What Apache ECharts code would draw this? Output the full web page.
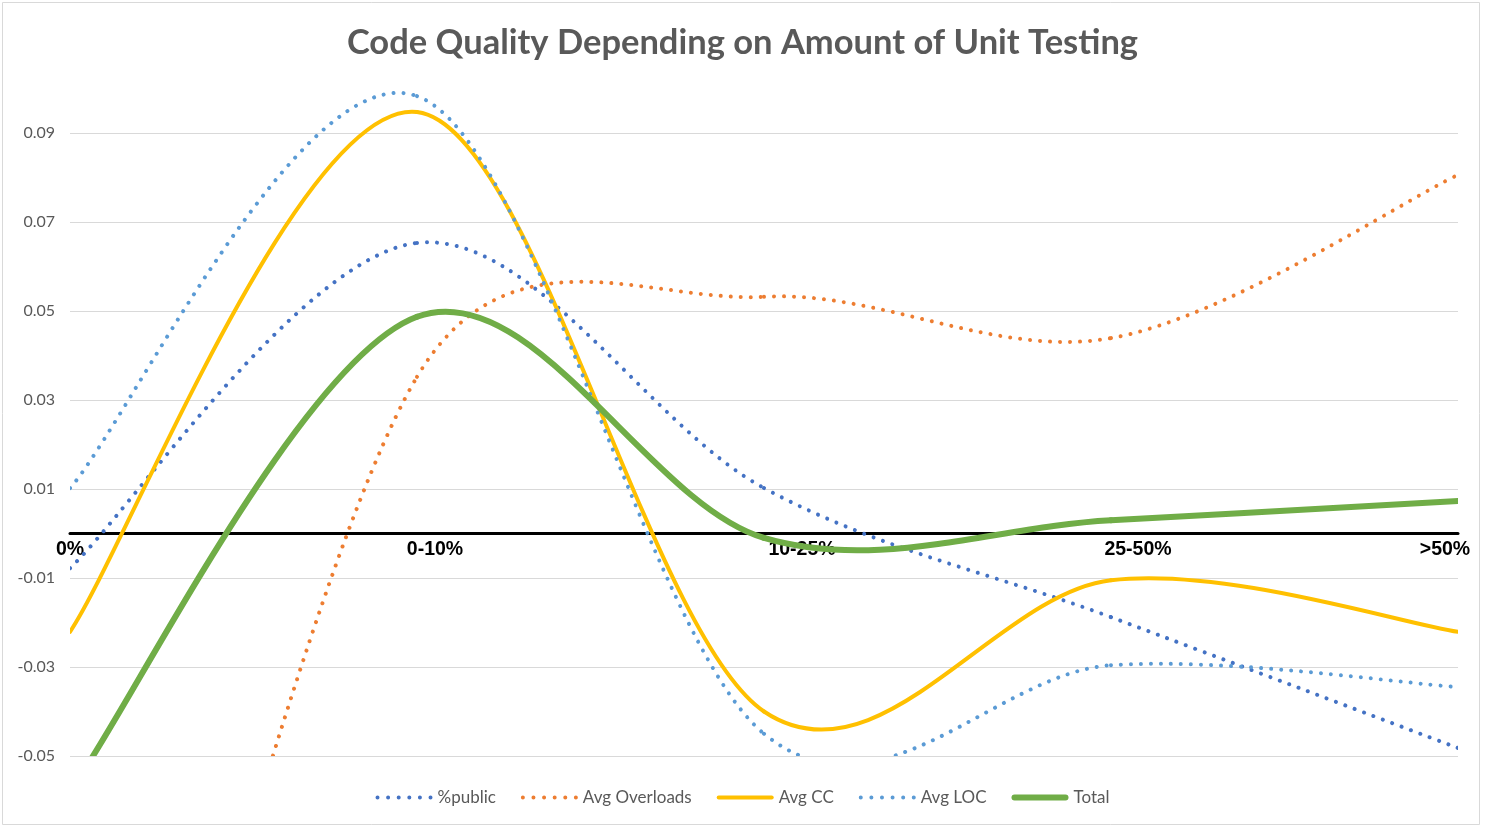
<!DOCTYPE html>
<html lang="en">
<head>
<meta charset="UTF-8">
<title>Code Quality Depending on Amount of Unit Testing</title>
<style>
  html, body { margin: 0; padding: 0; background: #fff; }
  #chart { width: 1485px; height: 827px; }
</style>
</head>
<body>
<div id="chart"></div>
<script src="https://cdn.jsdelivr.net/npm/echarts@6/dist/echarts.min.js"></script>
<script>
// values, one per category
var categories   = ['0%', '0-10%', '10-25%', '25-50%', '>50%'];
var pctPublic    = [-0.0078, 0.0653, 0.0102, -0.0188, -0.0482];
var avgOverloads = [-0.2100, 0.0352, 0.0532, 0.0439, 0.0806];
var avgCC        = [-0.0221, 0.0947, -0.0400, -0.0105, -0.0221];
var avgLOC       = [0.0102, 0.0983, -0.0450, -0.0296, -0.0345];
var total        = [-0.0580, 0.0487, -0.0010, 0.0030, 0.0073];

var FONT = 'Lato, "Open Sans", sans-serif';
var DOTS = [0.01, 10];
var Y_MIN = -0.05, Y_MAX = 0.1;
var GRID = { left: 70, right: 27, top: 88.5, bottom: 71 };

// the x labels in the original sit a little off their ticks
var labelPad = {
  '0-10%': [0, 0, 0, 36],
  '10-25%': [0, 0, 0, 76],
  '25-50%': [0, 0, 0, 54],
  '>50%': [0, 26, 0, 0]
};

// legend icons, all with the same 57x6 box
function dotIcon() {
  var p = 'path://M0,0M57,6';
  for (var k = 0; k < 6; k++) {
    var cx = 2 + k * 10.6;
    p += 'M' + (cx - 2) + ',3a2,2 0 1,0 4,0a2,2 0 1,0 -4,0';
  }
  return p;
}
function barIcon(h) {
  var t = 3 - h / 2, b = 3 + h / 2, r = h / 2;
  return 'path://M0,0M57,6M' + r + ',' + t + 'H' + (57 - r) +
    'A' + r + ',' + r + ' 0 0,1 ' + (57 - r) + ',' + b + 'H' + r +
    'A' + r + ',' + r + ' 0 0,1 ' + r + ',' + t + 'Z';
}

function dist(a, b) {
  return Math.sqrt((a[0] - b[0]) * (a[0] - b[0]) + (a[1] - b[1]) * (a[1] - b[1]));
}

// excel style smoothed segment from point i to i+1
// (tension 1/6, control arm never longer than half the segment)
function smoothLine(color, width, dash) {
  return function (params, api) {
    var i = params.dataIndexInside;
    var n = params.dataInsideLength;
    if (i >= n - 1) return null;
    function pt(j) {
      j = Math.max(0, Math.min(n - 1, j));
      return api.coord([j, api.value(1, j)]);
    }
    var p0 = pt(i - 1), p1 = pt(i), p2 = pt(i + 1), p3 = pt(i + 2);
    var d12 = dist(p1, p2), d02 = dist(p0, p2), d13 = dist(p1, p3);
    var f1 = 1 / 6, f2 = 1 / 6;
    if (d02 / 6 > d12 / 2) f1 = d12 / 2 / d02;
    if (d13 / 6 > d12 / 2) f2 = d12 / 2 / d13;
    return {
      type: 'bezierCurve',
      shape: {
        x1: p1[0], y1: p1[1],
        x2: p2[0], y2: p2[1],
        cpx1: p1[0] + (p2[0] - p0[0]) * f1,
        cpy1: p1[1] + (p2[1] - p0[1]) * f1,
        cpx2: p2[0] - (p3[0] - p1[0]) * f2,
        cpy2: p2[1] - (p3[1] - p1[1]) * f2
      },
      style: {
        fill: null,
        stroke: color,
        lineWidth: width,
        lineDash: dash,
        lineCap: 'round'
      }
    };
  };
}

function makeSeries(name, values, color, width, dash) {
  return {
    name: name,
    type: 'custom',
    clip: true,
    itemStyle: { color: color },
    data: values.map(function (v, i) { return [i, v]; }),
    renderItem: smoothLine(color, width, dash)
  };
}

var chart = echarts.init(document.getElementById('chart'));
var plotH = chart.getHeight() - GRID.top - GRID.bottom;
// lift the category axis from the bottom of the grid up to y = 0
var zeroOffset = -plotH * (0 - Y_MIN) / (Y_MAX - Y_MIN);

var option = {
  backgroundColor: '#fff',
  animation: false,
  title: {
    text: 'Code Quality Depending on Amount of Unit Testing',
    left: 'center',
    top: 20,
    textStyle: { fontFamily: FONT, fontSize: 34.5, fontWeight: 'bold', color: '#595959' }
  },
  graphic: [{
    type: 'rect',
    silent: true,
    z: -1,
    shape: { x: 2.5, y: 2.5, width: 1477, height: 822 },
    style: { fill: null, stroke: '#D9D9D9', lineWidth: 1 }
  }],
  legend: {
    top: 784,
    left: 'center',
    itemWidth: 57,
    itemHeight: 6,
    itemGap: 25,
    textStyle: { fontFamily: FONT, fontSize: 17, color: '#595959' },
    data: [
      { name: '%public', icon: dotIcon() },
      { name: 'Avg Overloads', icon: dotIcon() },
      { name: 'Avg CC', icon: barIcon(4) },
      { name: 'Avg LOC', icon: dotIcon() },
      { name: 'Total', icon: barIcon(6) }
    ]
  },
  grid: { left: GRID.left, right: GRID.right, top: GRID.top, bottom: GRID.bottom, containLabel: false },
  xAxis: {
    type: 'category',
    boundaryGap: false,
    offset: zeroOffset,
    data: categories.map(function (c) {
      return labelPad[c] ? { value: c, textStyle: { padding: labelPad[c] } } : c;
    }),
    axisLine: { onZero: false, lineStyle: { color: '#000', width: 3 } },
    axisTick: { show: false },
    axisLabel: {
      interval: 0,
      margin: 6,
      fontFamily: '"Liberation Sans", Arial, sans-serif',
      fontSize: 19.5,
      fontWeight: 'bold',
      color: '#000'
    },
    splitLine: { show: false }
  },
  yAxis: {
    type: 'value',
    min: Y_MIN,
    max: Y_MAX,
    interval: 0.02,
    axisLine: { show: false },
    axisTick: { show: false },
    axisLabel: {
      margin: 15,
      showMaxLabel: false,
      fontFamily: FONT,
      fontSize: 16,
      color: '#595959',
      formatter: function (v) { return v.toFixed(2); }
    },
    splitLine: { showMaxLine: false, lineStyle: { color: '#D9D9D9', width: 1 } }
  },
  series: [
    makeSeries('%public', pctPublic, '#4472C4', 4, DOTS),
    makeSeries('Avg Overloads', avgOverloads, '#ED7D31', 4, DOTS),
    makeSeries('Avg CC', avgCC, '#FFC000', 4, null),
    makeSeries('Avg LOC', avgLOC, '#5B9BD5', 4, DOTS),
    makeSeries('Total', total, '#70AD47', 6, null)
  ]
};

chart.setOption(option);
</script>
</body>
</html>
